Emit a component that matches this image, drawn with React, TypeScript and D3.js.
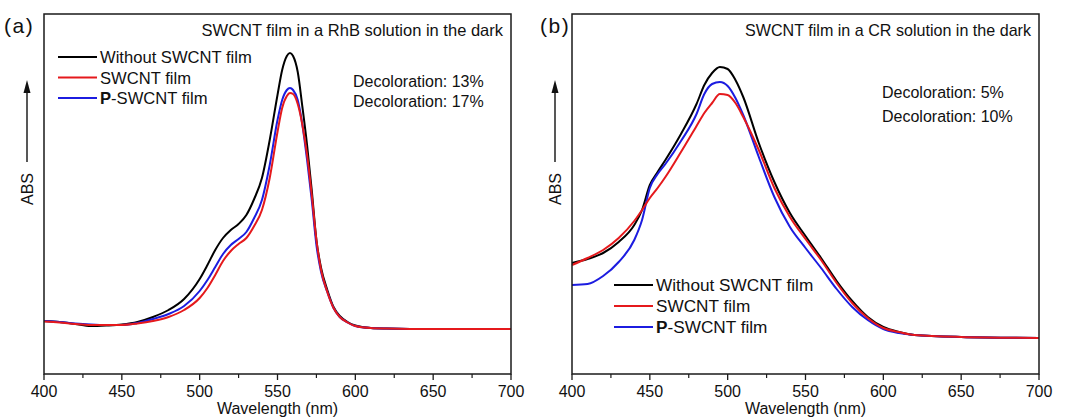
import React from "react";
import * as d3 from "d3";

// ---------- DATA ----------
// Panel (a): RhB solution
const wavelengthsA = [400,410,420,430,440,450,460,470,480,490,500,505,510,515,520,525,530,535,540,545,550,553,556,558,560,563,566,569,572,575,578,582,586,590,595,600,610,620,650,700];
const rhbWithout = [53,52,50,48,48.5,49.5,52,57,64,75,95,109,124,136,144,150,159,175,196,234,279,304,318,321,318,302,267,229,184,134,106,84,67,58,52,48.5,46,45.5,45,45];
const rhbSwcnt = [52.5,51.5,50,49,49,49,50.5,53,57,64,76,86,99,113,123,130,136,148,164,196,242,266,278,281,280,270,249,219,179,134,104,82,66,57,51.5,48,46,45.5,45,45];
const rhbPSwcnt = [53,52,50.5,49.5,49,49,51,55,60,68,83,94,107,120,129,135,142,156,174,209,254,274,284,286,284,274,249,214,174,129,102,82,66,57,51.5,48,46,45.5,45,45];

// Panel (b): CR solution
const wavelengthsB = [400,410,420,430,440,445,450,455,460,470,480,485,490,495,500,505,510,520,530,540,550,560,570,580,590,600,610,620,650,700];
const crWithout = [111,115,121,132,149,164,189,202,214,240,270,289,301,307,305,294,277,231,192,161,138,116,93,73,57,47,42,39,37,36];
const crSwcnt = [109,116,124,136,153,164,176,186,197,222,248,261,271,280,279,271,257,224,186,157,135,114,91,71,56,46,42,39,37,36];
const crPSwcnt = [89,90,98,112,134,154,186,200,210,233,260,280,290,292,288,276,259,217,177,147,126,106,85,67,54,45,41,39,37,36];

const xTicks = [400,450,500,550,600,650,700];
const xMinorTicks = [425,475,525,575,625,675];
const seriesNames = ["Without SWCNT film", "SWCNT film", "P-SWCNT film"];
const seriesColors = ["#000000", "#e5191c", "#1c1ce0"];

const panels = [
  {
    tag: "(a)",
    title: "SWCNT film in a RhB solution in the dark",
    decoloration: ["Decoloration: 13%", "Decoloration: 17%"],
    wl: wavelengthsA,
    series: [rhbWithout, rhbSwcnt, rhbPSwcnt],
  },
  {
    tag: "(b)",
    title: "SWCNT film in a CR solution in the dark",
    decoloration: ["Decoloration: 5%", "Decoloration: 10%"],
    wl: wavelengthsB,
    series: [crWithout, crSwcnt, crPSwcnt],
  },
];

// ---------- LAYOUT ----------
const FONT = "'Liberation Sans', Arial, Helvetica, sans-serif";
const layouts = [
  { left: 44, right: 511, tagX: 4, arrowX: 27, legX: 58, legY: 57, legDy: 20.5, legFont: 16.6, titleFont: 16.5, decX: 353, decY: 87, decDy: 20 },
  { left: 572, right: 1039, tagX: 540, arrowX: 555, legX: 614, legY: 285, legDy: 21, legFont: 17.2, titleFont: 16.1, decX: 882, decY: 97.5, decDy: 24 },
];
const TOP = 14;
const BOTTOM = 374;

function Panel({ p, L }: any) {
  const x = d3.scaleLinear().domain([400, 700]).range([L.left, L.right]);
  const y = d3.scaleLinear().domain([0, 360]).range([BOTTOM, TOP]);
  const line = d3
    .line<number>()
    .x((_, i) => x(p.wl[i]))
    .y((d) => y(d))
    .curve(d3.curveMonotoneX);
  const order = [0, 2, 1];
  return (
    <g>
      {order.map((k) => (
        <path key={k} d={line(p.series[k]) || ""} fill="none" stroke={seriesColors[k]} strokeWidth={2} strokeLinejoin="round" />
      ))}
      <rect x={L.left} y={TOP} width={L.right - L.left} height={BOTTOM - TOP} fill="none" stroke="#1a1a1a" strokeWidth={1.5} />
      {xTicks.map((t) => (
        <g key={t}>
          <line x1={x(t)} x2={x(t)} y1={BOTTOM} y2={BOTTOM + 6} stroke="#1a1a1a" strokeWidth={1.3} />
          <text x={x(t)} y={397} textAnchor="middle" fontSize={16} fontFamily={FONT} fill="#111">{t}</text>
        </g>
      ))}
      {xMinorTicks.map((t) => (
        <line key={t} x1={x(t)} x2={x(t)} y1={BOTTOM} y2={BOTTOM + 4} stroke="#1a1a1a" strokeWidth={1.2} />
      ))}
      <text x={(L.left + L.right) / 2} y={413.5} textAnchor="middle" fontSize={16} fontFamily={FONT} fill="#111">Wavelength (nm)</text>
      <line x1={L.arrowX} x2={L.arrowX} y1={162} y2={90} stroke="#111" strokeWidth={1.4} />
      <path d={`M${L.arrowX},80 L${L.arrowX - 3.5},93 L${L.arrowX + 3.5},93 Z`} fill="#111" />
      <text transform={`translate(${L.arrowX + 6},189) rotate(-90)`} textAnchor="middle" fontSize={16} fontFamily={FONT} fill="#111">ABS</text>
      <text x={L.tagX} y={33} fontSize={21} fontFamily={FONT} fill="#111" letterSpacing={1.5}>{p.tag}</text>
      <text x={L.right - 8} y={36} textAnchor="end" fontSize={L.titleFont} fontFamily={FONT} fill="#111">{p.title}</text>
      {p.decoloration.map((s: string, i: number) => (
        <text key={i} x={L.decX} y={L.decY + i * L.decDy} fontSize={16} fontFamily={FONT} fill="#111">{s}</text>
      ))}
      {seriesNames.map((name, i) => {
        const ly = L.legY + i * L.legDy;
        return (
          <g key={name}>
            <line x1={L.legX} x2={L.legX + 39} y1={ly} y2={ly} stroke={seriesColors[i]} strokeWidth={2} />
            <text x={L.legX + 42} y={ly + 6} fontSize={L.legFont} fontFamily={FONT} fill="#111">
              {i === 2 ? (
                <>
                  <tspan fontWeight="bold">P</tspan>
                  <tspan>-SWCNT film</tspan>
                </>
              ) : (
                name
              )}
            </text>
          </g>
        );
      })}
    </g>
  );
}

export default function App() {
  return (
    <svg
      width={1069}
      height={418}
      viewBox="0 0 1069 418"
      style={{ position: "absolute", left: 0, top: 0, background: "#fff" }}
    >
      <rect width={1069} height={418} fill="#fff" />
      {panels.map((p, i) => (
        <Panel key={i} p={p} L={layouts[i]} />
      ))}
    </svg>
  );
}
